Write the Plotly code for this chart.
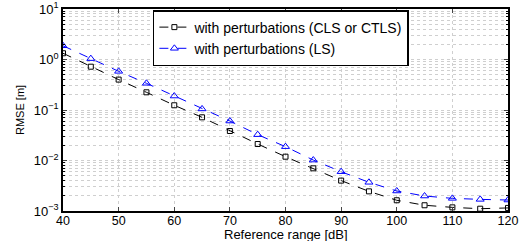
import plotly.graph_objects as go

x_db = [40, 45, 50, 55, 60, 65, 70, 75, 80, 85, 90, 95, 100, 105, 110, 115, 120]
rmse_cls = [1.33, 0.72, 0.40, 0.224, 0.124, 0.0716, 0.0384, 0.0212, 0.0119, 0.0070, 0.0040,
            0.00245, 0.00163, 0.0013, 0.00118, 0.00111, 0.00115]
rmse_ls = [1.87, 1.04, 0.583, 0.338, 0.189, 0.105, 0.0605, 0.0325, 0.0188, 0.0102, 0.0060,
           0.0037, 0.00249, 0.00198, 0.00178, 0.0017, 0.00165]
name_cls = "with perturbations (CLS or CTLS)"
name_ls = "with perturbations (LS)"
y_tickvals = [1e-3, 1e-2, 1e-1, 1e0, 1e1]
y_ticktext = ["10<sup>−3</sup>", "10<sup>−2</sup>", "10<sup>−1</sup>", "10<sup>0</sup>", "10<sup>1</sup>"]
x_tickvals = [40, 50, 60, 70, 80, 90, 100, 110, 120]
x_title = "Reference range [dB]"
y_title = "RMSE [m]"

fig = go.Figure()
fig.add_trace(go.Scatter(x=x_db, y=rmse_cls, name=name_cls, mode="lines+markers",
                         line=dict(color="black", width=1, dash="dash"),
                         marker=dict(symbol="square-open", size=5, color="black", line=dict(width=1))))
fig.add_trace(go.Scatter(x=x_db, y=rmse_ls, name=name_ls, mode="lines+markers",
                         line=dict(color="#0000ff", width=1, dash="dash"),
                         marker=dict(symbol="triangle-up-open", size=7, color="#0000ff", line=dict(width=1))))

gcol = "#cfcfcf"
grid = dict(showgrid=True, gridcolor=gcol, griddash="dot", gridwidth=1)
fig.update_xaxes(range=[40, 120], tickvals=x_tickvals, ticks="inside", ticklen=4,
                 showline=True, linecolor="black", linewidth=1.5, mirror="allticks",
                 zeroline=False, tickfont=dict(size=12.5, color="black"), automargin=False,
                 ticklabelstandoff=-3,
                 **grid)
fig.update_yaxes(type="log", range=[-3, 1], tickvals=y_tickvals, ticktext=y_ticktext,
                 ticks="inside", ticklen=4, showline=True, linecolor="black", linewidth=1.5,
                 mirror="allticks", zeroline=False, tickfont=dict(size=13, color="black"),
                 automargin=False,
                 minor=dict(ticks="inside", ticklen=2, showgrid=True, gridcolor=gcol,
                            griddash="dot", tickcolor="black",
                            tickvals=[m * 10 ** e for e in range(-3, 1) for m in range(2, 10)]),
                 **grid)

fig.add_annotation(text=x_title, xref="paper", yref="paper", x=0.5, y=-0.118,
                   xanchor="center", yanchor="middle", showarrow=False,
                   font=dict(size=13, color="black"))
fig.add_annotation(text=y_title, xref="paper", yref="paper", x=-0.0966, y=0.5,
                   xanchor="center", yanchor="middle", showarrow=False, textangle=-90,
                   font=dict(size=11, color="black"))

fig.update_layout(
    width=531, height=241,
    margin=dict(l=63, r=23, t=9, b=30),
    paper_bgcolor="white", plot_bgcolor="white",
    font=dict(family="Liberation Sans, Arial, sans-serif", color="black"),
    legend=dict(x=0.202, y=0.995, xanchor="left", yanchor="top",
                bgcolor="white", bordercolor="black", borderwidth=1.5,
                font=dict(size=14), tracegroupgap=0, itemwidth=30),
    showlegend=True,
)

fig.write_html("out.html", config={"displayModeBar": False},
               post_script="document.body.style.margin='0';")
